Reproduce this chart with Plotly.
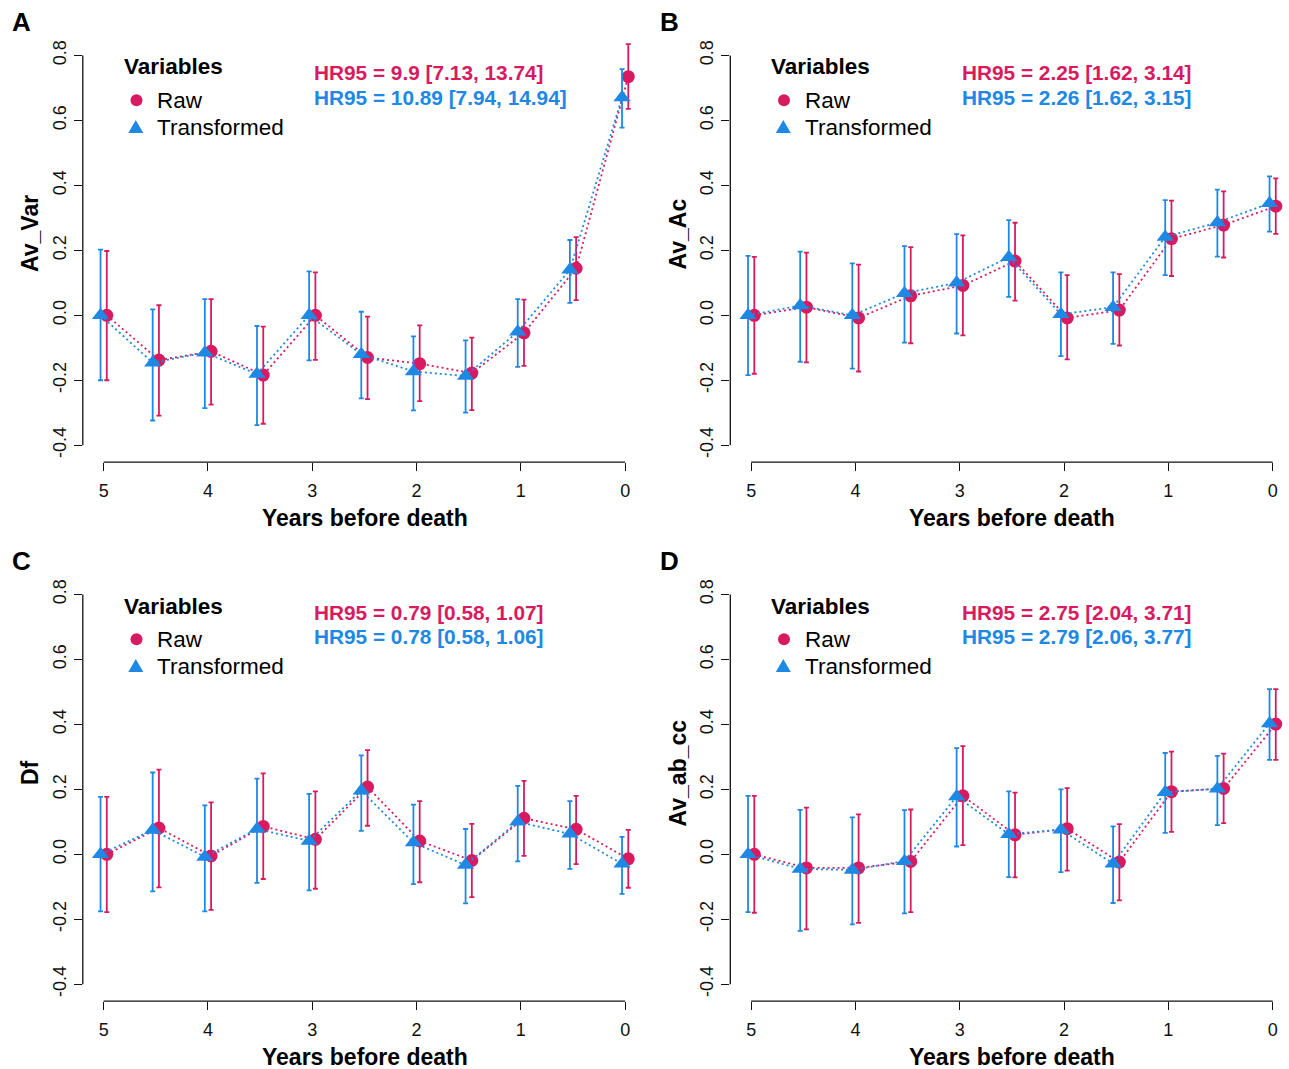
import plotly.graph_objects as go

# ---------------------------------------------------------------- data
years = [5, 4.5, 4, 3.5, 3, 2.5, 2, 1.5, 1, 0.5, 0]

# Panel A : Av_Var
A_raw = [0.000, -0.138, -0.111, -0.184, 0.000, -0.130, -0.149, -0.178, -0.054, 0.145, 0.735]
A_raw_lo = [-0.200, -0.309, -0.275, -0.334, -0.137, -0.258, -0.264, -0.292, -0.156, 0.047, 0.636]
A_raw_hi = [0.198, 0.031, 0.050, -0.035, 0.132, -0.004, -0.031, -0.069, 0.048, 0.241, 0.835]
A_tr = [0.000, -0.146, -0.115, -0.181, 0.000, -0.120, -0.173, -0.187, -0.051, 0.140, 0.671]
A_tr_lo = [-0.200, -0.324, -0.286, -0.338, -0.139, -0.256, -0.293, -0.300, -0.159, 0.038, 0.578]
A_tr_hi = [0.202, 0.018, 0.050, -0.033, 0.135, 0.011, -0.065, -0.077, 0.050, 0.232, 0.758]

# Panel B : Av_Ac
B_raw = [0.000, 0.025, -0.008, 0.060, 0.092, 0.167, -0.008, 0.016, 0.236, 0.278, 0.336]
B_raw_lo = [-0.180, -0.145, -0.173, -0.086, -0.062, 0.045, -0.136, -0.093, 0.121, 0.178, 0.251]
B_raw_hi = [0.180, 0.193, 0.156, 0.210, 0.246, 0.285, 0.124, 0.127, 0.353, 0.382, 0.422]
B_tr = [0.000, 0.030, 0.000, 0.068, 0.100, 0.179, 0.003, 0.025, 0.241, 0.286, 0.345]
B_tr_lo = [-0.184, -0.143, -0.164, -0.084, -0.056, 0.057, -0.126, -0.088, 0.124, 0.181, 0.258]
B_tr_hi = [0.183, 0.196, 0.160, 0.213, 0.250, 0.293, 0.132, 0.132, 0.355, 0.387, 0.428]

# Panel C : Df
C_raw = [0.000, 0.081, -0.005, 0.086, 0.046, 0.207, 0.041, -0.019, 0.111, 0.077, -0.014]
C_raw_lo = [-0.178, -0.102, -0.171, -0.076, -0.106, 0.088, -0.086, -0.132, -0.005, -0.030, -0.103]
C_raw_hi = [0.177, 0.261, 0.160, 0.249, 0.194, 0.321, 0.164, 0.094, 0.226, 0.180, 0.075]
C_tr = [0.000, 0.075, -0.008, 0.078, 0.041, 0.196, 0.036, -0.033, 0.100, 0.063, -0.029]
C_tr_lo = [-0.176, -0.114, -0.176, -0.088, -0.111, 0.072, -0.092, -0.151, -0.022, -0.045, -0.122]
C_tr_hi = [0.177, 0.252, 0.151, 0.233, 0.186, 0.305, 0.153, 0.078, 0.211, 0.164, 0.054]

# Panel D : Av_ab_cc
D_raw = [0.000, -0.042, -0.042, -0.022, 0.180, 0.060, 0.079, -0.024, 0.193, 0.203, 0.401]
D_raw_lo = [-0.180, -0.231, -0.211, -0.178, 0.028, -0.071, -0.050, -0.142, 0.069, 0.096, 0.291]
D_raw_hi = [0.180, 0.144, 0.123, 0.138, 0.333, 0.190, 0.204, 0.093, 0.316, 0.310, 0.509]
D_tr = [0.000, -0.045, -0.048, -0.021, 0.178, 0.062, 0.076, -0.029, 0.191, 0.202, 0.403]
D_tr_lo = [-0.178, -0.236, -0.216, -0.182, 0.024, -0.070, -0.055, -0.150, 0.066, 0.090, 0.291]
D_tr_hi = [0.180, 0.137, 0.114, 0.136, 0.327, 0.194, 0.200, 0.086, 0.312, 0.303, 0.509]

panel_letters = ["A", "B", "C", "D"]
y_titles = ["Av_Var", "Av_Ac", "Df", "Av_ab_cc"]
hr_raw = ["HR95 = 9.9 [7.13, 13.74]", "HR95 = 2.25 [1.62, 3.14]",
          "HR95 = 0.79 [0.58, 1.07]", "HR95 = 2.75 [2.04, 3.71]"]
hr_tr = ["HR95 = 10.89 [7.94, 14.94]", "HR95 = 2.26 [1.62, 3.15]",
         "HR95 = 0.78 [0.58, 1.06]", "HR95 = 2.79 [2.06, 3.77]"]

x_ticks = [5, 4, 3, 2, 1, 0]
y_ticks = [-0.4, -0.2, 0.0, 0.2, 0.4, 0.6, 0.8]
y_ticklabels = ["-0.4", "-0.2", "0.0", "0.2", "0.4", "0.6", "0.8"]

series = [
    (A_raw, A_raw_lo, A_raw_hi, A_tr, A_tr_lo, A_tr_hi),
    (B_raw, B_raw_lo, B_raw_hi, B_tr, B_tr_lo, B_tr_hi),
    (C_raw, C_raw_lo, C_raw_hi, C_tr, C_tr_lo, C_tr_hi),
    (D_raw, D_raw_lo, D_raw_hi, D_tr, D_tr_lo, D_tr_hi),
]

# ---------------------------------------------------------------- style
W, H = 1289, 1069
RED = "#D81B60"
BLUE = "#1E88E5"
INK = "#111111"
FONT = "Arial, Liberation Sans, sans-serif"
DODGE = 0.03                     # side-by-side offset of the two series
X_RANGE = [5.2, -0.15]
Y_RANGE = [-0.4524, 0.952]

# pixel geometry of the top-left panel; others are shifted copies
PX_LEFT, PX_RIGHT = 82.8, 640.8
PX_TOP, PX_BOTTOM = 6.2, 462.2
OFFSETS = [(0, 0), (647.5, 0), (0, 539), (647.5, 539)]


def px(x):
    return x / W


def py(y):
    return 1 - y / H


fig = go.Figure()
annotations = []
shapes = []

for i, (raw, raw_lo, raw_hi, tr, tr_lo, tr_hi) in enumerate(series):
    dx, dy = OFFSETS[i]
    n = "" if i == 0 else str(i + 1)
    xa, ya = "x" + n, "y" + n

    fig.update_layout({
        "xaxis" + n: dict(
            domain=[px(PX_LEFT + dx), px(PX_RIGHT + dx)], range=X_RANGE,
            anchor=ya, tickvals=x_ticks, ticktext=[str(t) for t in x_ticks],
            ticks="outside", ticklen=8, tickwidth=1.3, tickcolor=INK,
            ticklabelstandoff=4,
            showline=False, showgrid=False, zeroline=False,
            tickfont=dict(family=FONT, size=18, color=INK), fixedrange=True),
        "yaxis" + n: dict(
            domain=[py(PX_BOTTOM + dy), py(PX_TOP + dy)], range=Y_RANGE,
            anchor=xa, tickvals=y_ticks, ticktext=y_ticklabels, tickangle=-90,
            ticks="outside", ticklen=8, tickwidth=1.3, tickcolor=INK,
            ticklabelstandoff=1,
            showline=False, showgrid=False, zeroline=False,
            tickfont=dict(family=FONT, size=18, color=INK), fixedrange=True),
    })

    # R-style axis lines spanning only the tick range
    shapes.append(dict(type="line", xref=xa, yref=ya + " domain",
                       x0=x_ticks[0], x1=x_ticks[-1], y0=0, y1=0,
                       line=dict(color=INK, width=1.3)))
    shapes.append(dict(type="line", xref=xa + " domain", yref=ya,
                       x0=0, x1=0, y0=y_ticks[0], y1=y_ticks[-1],
                       line=dict(color=INK, width=1.3)))

    for vals, lo, hi, color, sym, size, shift in (
        (raw, raw_lo, raw_hi, RED, "circle", 13, DODGE),
        (tr, tr_lo, tr_hi, BLUE, "triangle-up", 15, -DODGE),
    ):
        fig.add_trace(go.Scatter(
            x=[x - shift for x in years], y=vals, xaxis=xa, yaxis=ya,
            mode="lines+markers", showlegend=False, cliponaxis=False,
            line=dict(color=color, width=1.8, dash="2px,3px"),
            marker=dict(color=color, symbol=sym, size=size, line=dict(width=0)),
            error_y=dict(type="data", symmetric=False,
                         array=[h - v for h, v in zip(hi, vals)],
                         arrayminus=[v - l for v, l in zip(vals, lo)],
                         color=color, thickness=1.8, width=2.5),
        ))

    # panel letter
    annotations.append(dict(text="<b>%s</b>" % panel_letters[i], x=px(10 + dx), y=py(22 + dy),
                            xref="paper", yref="paper", xanchor="left", yanchor="middle",
                            showarrow=False, font=dict(family=FONT, size=26, color="#000")))
    # axis titles
    annotations.append(dict(text="<b>Years before death</b>", x=px(364.5 + dx), y=py(518 + dy),
                            xref="paper", yref="paper", xanchor="center", yanchor="middle",
                            showarrow=False, font=dict(family=FONT, size=23, color="#000")))
    annotations.append(dict(text="<b>%s</b>" % y_titles[i], x=px(30 + dx), y=py(234 + dy),
                            xref="paper", yref="paper", xanchor="center", yanchor="middle",
                            textangle=-90, showarrow=False,
                            font=dict(family=FONT, size=23, color="#000")))
    # hazard-ratio labels
    annotations.append(dict(text="<b>%s</b>" % hr_raw[i], x=px(312 + dx), y=py(73 + dy),
                            xref="paper", yref="paper", xanchor="left", yanchor="middle",
                            showarrow=False, font=dict(family=FONT, size=20.8, color=RED)))
    annotations.append(dict(text="<b>%s</b>" % hr_tr[i], x=px(312 + dx), y=py(97.5 + dy),
                            xref="paper", yref="paper", xanchor="left", yanchor="middle",
                            showarrow=False, font=dict(family=FONT, size=20.8, color=BLUE)))
    # legend block
    annotations.append(dict(text="<b>Variables</b>", x=px(121.5 + dx), y=py(67 + dy),
                            xref="paper", yref="paper", xanchor="left", yanchor="middle",
                            showarrow=False, font=dict(family=FONT, size=22.5, color="#000")))
    annotations.append(dict(text="Raw", x=px(155 + dx), y=py(100.5 + dy),
                            xref="paper", yref="paper", xanchor="left", yanchor="middle",
                            showarrow=False, font=dict(family=FONT, size=22.5, color="#000")))
    annotations.append(dict(text="Transformed", x=px(155 + dx), y=py(127.5 + dy),
                            xref="paper", yref="paper", xanchor="left", yanchor="middle",
                            showarrow=False, font=dict(family=FONT, size=22.5, color="#000")))
    shapes.append(dict(type="circle", xref="paper", yref="paper",
                       xsizemode="pixel", ysizemode="pixel",
                       xanchor=px(136.5 + dx), yanchor=py(100.3 + dy),
                       x0=-6, x1=6, y0=-6, y1=6,
                       fillcolor=RED, line=dict(width=0)))
    shapes.append(dict(type="path", xref="paper", yref="paper",
                       xsizemode="pixel", ysizemode="pixel",
                       xanchor=px(135.8 + dx), yanchor=py(127.5 + dy),
                       path="M -7.5 -5.5 L 7.5 -5.5 L 0 7.5 Z",
                       fillcolor=BLUE, line=dict(width=0)))

fig.update_layout(
    width=W, height=H, autosize=False,
    margin=dict(l=0, r=0, t=0, b=0, pad=0),
    paper_bgcolor="white", plot_bgcolor="white",
    showlegend=False, annotations=annotations, shapes=shapes,
)

fig.write_html("out.html")
